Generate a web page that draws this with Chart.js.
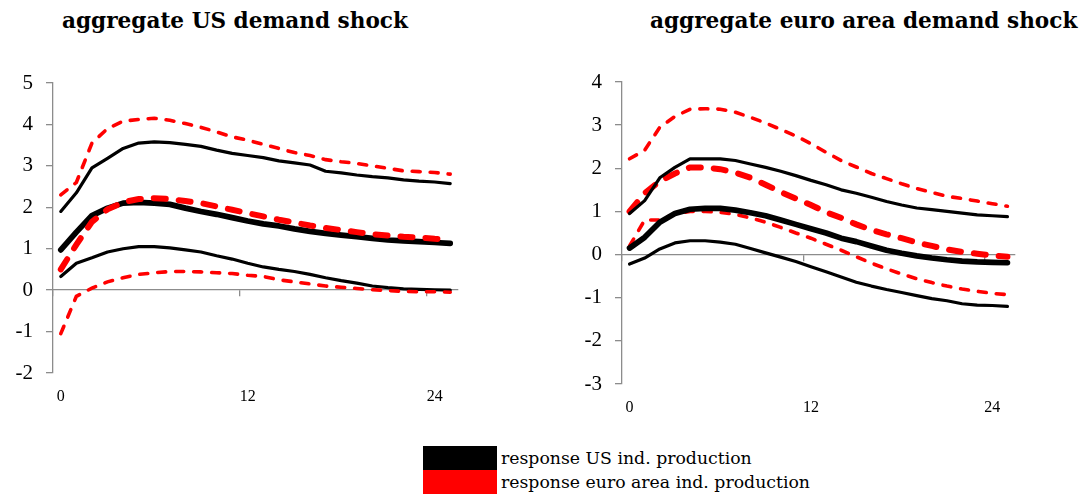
<!DOCTYPE html>
<html>
<head>
<meta charset="utf-8">
<script src="https://cdn.jsdelivr.net/npm/chart.js@4.4.1/dist/chart.umd.min.js"></script>
<style>
  body { margin: 0; background: #fff; width: 1085px; height: 495px; position: relative; overflow: hidden; }
  .title { position: absolute; top: 8px; font-family: 'DejaVu Serif', serif; font-weight: bold; font-size: 21.6px; white-space: nowrap; }
  canvas { position: absolute; top: 0; }
  .legend { position: absolute; left: 423px; top: 446px; font-family: 'DejaVu Serif', serif; font-size: 17.3px; }
  .legend div { height: 24px; line-height: 24px; white-space: nowrap; }
  .legend span { display: inline-block; width: 74px; height: 24px; vertical-align: top; margin-right: 4px; }
</style>
</head>
<body>
<div class="title" style="left:62px">aggregate US demand shock</div>
<div class="title" style="left:650px">aggregate euro area demand shock</div>
<canvas id="chartUS" width="540" height="420" style="left:0"></canvas>
<canvas id="chartEA" width="545" height="420" style="left:540px"></canvas>
<div class="legend">
  <div><span style="background:#000"></span>response US ind. production</div>
  <div><span style="background:#ff0000"></span>response euro area ind. production</div>
</div>
<script>
'use strict';

let horizons = [];
for (let i = 0; i <= 25; i++) horizons.push(String(i));

// US demand shock
let usUpper = [1.9, 2.35, 2.95, 3.18, 3.42, 3.55, 3.58, 3.56, 3.52, 3.47, 3.38, 3.3, 3.25, 3.2, 3.12, 3.07, 3.02, 2.87, 2.83, 2.78, 2.74, 2.71, 2.66, 2.63, 2.61, 2.57];
let usMedian = [0.97, 1.4, 1.8, 1.98, 2.1, 2.12, 2.1, 2.07, 1.98, 1.9, 1.83, 1.75, 1.67, 1.6, 1.55, 1.48, 1.42, 1.37, 1.33, 1.29, 1.25, 1.21, 1.19, 1.17, 1.15, 1.13];
let usLower = [0.33, 0.65, 0.78, 0.92, 1.0, 1.05, 1.05, 1.02, 0.97, 0.92, 0.83, 0.75, 0.65, 0.56, 0.5, 0.45, 0.38, 0.3, 0.23, 0.17, 0.1, 0.06, 0.03, 0.02, 0.01, 0.0];
let usEaUpper = [2.3, 2.6, 3.55, 3.9, 4.08, 4.12, 4.15, 4.1, 4.02, 3.93, 3.82, 3.7, 3.62, 3.52, 3.42, 3.32, 3.25, 3.15, 3.1, 3.06, 3.0, 2.94, 2.88, 2.86, 2.84, 2.8];
let usEaMedian = [0.5, 1.1, 1.65, 1.95, 2.12, 2.2, 2.22, 2.2, 2.15, 2.1, 2.02, 1.94, 1.86, 1.78, 1.7, 1.63, 1.56, 1.5, 1.45, 1.4, 1.35, 1.32, 1.29, 1.27, 1.24, 1.22];
let usEaLower = [-1.05, -0.15, 0.05, 0.2, 0.3, 0.38, 0.42, 0.45, 0.45, 0.44, 0.42, 0.4, 0.36, 0.33, 0.25, 0.2, 0.15, 0.1, 0.07, 0.04, 0.01, -0.01, -0.03, -0.04, -0.04, -0.05];

// euro area demand shock
let eaUsUpper = [0.95, 1.25, 1.78, 2.02, 2.22, 2.22, 2.22, 2.18, 2.1, 2.02, 1.93, 1.83, 1.72, 1.62, 1.5, 1.42, 1.33, 1.23, 1.15, 1.08, 1.04, 1.0, 0.96, 0.92, 0.9, 0.88];
let eaUsMedian = [0.15, 0.4, 0.75, 0.95, 1.05, 1.07, 1.07, 1.03, 0.97, 0.9, 0.8, 0.7, 0.6, 0.5, 0.38, 0.3, 0.2, 0.1, 0.03, -0.03, -0.08, -0.12, -0.15, -0.17, -0.18, -0.19];
let eaUsLower = [-0.22, -0.08, 0.13, 0.27, 0.32, 0.32, 0.29, 0.24, 0.14, 0.04, -0.06, -0.16, -0.28, -0.4, -0.52, -0.64, -0.73, -0.81, -0.88, -0.95, -1.02, -1.07, -1.14, -1.17, -1.18, -1.2];
let eaUpper = [2.22, 2.42, 2.95, 3.2, 3.37, 3.38, 3.37, 3.3, 3.18, 3.05, 2.9, 2.75, 2.57, 2.37, 2.18, 2.03, 1.88, 1.76, 1.64, 1.53, 1.44, 1.35, 1.3, 1.24, 1.18, 1.12];
let eaMedian = [1.0, 1.42, 1.7, 1.88, 2.02, 2.02, 1.98, 1.9, 1.78, 1.62, 1.45, 1.3, 1.15, 0.98, 0.85, 0.7, 0.57, 0.47, 0.38, 0.28, 0.2, 0.12, 0.06, 0.02, -0.02, -0.05];
let eaLower = [0.2, 0.8, 0.8, 0.95, 1.0, 1.0, 0.98, 0.93, 0.85, 0.75, 0.63, 0.5, 0.38, 0.24, 0.1, -0.05, -0.2, -0.33, -0.45, -0.56, -0.65, -0.73, -0.8, -0.85, -0.9, -0.93];

let shownTicks = [0, 12, 24];
let axisGray = '#8c8c8c';

// redOnTop: the US panel has the red lines over the black ones, the euro panel the other way
function makeSets(bUp, bMed, bLow, rUp, rMed, rLow, redOnTop) {
  let rOrder = redOnTop ? 0 : 1;
  let bOrder = redOnTop ? 1 : 0;
  let black = { borderColor: '#000', pointRadius: 0, tension: 0, fill: false, borderJoinStyle: 'round', borderCapStyle: 'round', order: bOrder };
  let red = { borderColor: '#ff0000', pointRadius: 0, tension: 0, fill: false, borderCapStyle: 'round', order: rOrder };
  return [
    Object.assign({ data: rUp, borderWidth: 3.6, borderDash: [8, 10] }, red),
    Object.assign({ data: rMed, borderWidth: 6, borderDash: [12, 13] }, red),
    Object.assign({ data: rLow, borderWidth: 3.6, borderDash: [8, 10] }, red),
    Object.assign({ data: bUp, borderWidth: 3.2 }, black),
    Object.assign({ data: bMed, borderWidth: 5.7 }, black),
    Object.assign({ data: bLow, borderWidth: 3.2 }, black)
  ];
}

function makeConfig(sets, yMin, yMax, pad, yWidth, xHeight, xPad) {
  return {
    type: 'line',
    data: { labels: horizons, datasets: sets },
    options: {
      responsive: false,
      animation: false,
      layout: { padding: pad },
      plugins: { legend: { display: false }, tooltip: { enabled: false } },
      scales: {
        x: {
          type: 'category',
          offset: true,
          grid: { display: false },
          border: { display: false },
          afterFit: function (s) { s.height = xHeight; },
          ticks: {
            autoSkip: false,
            maxRotation: 0,
            padding: xPad,
            color: '#000',
            font: { family: 'Liberation Serif', size: 16 },
            callback: function (v, i) { return shownTicks.includes(i) ? horizons[i] : null; }
          }
        },
        // axis line through zero, with tick marks between categories at 12 and 24
        zero: {
          type: 'category',
          axis: 'x',
          position: { y: 0 },
          offset: true,
          grid: {
            offset: true,
            drawOnChartArea: false,
            drawTicks: true,
            tickLength: 6,
            lineWidth: 1.3,
            tickColor: function (c) { return shownTicks.includes(c.index) ? axisGray : 'rgba(0,0,0,0)'; }
          },
          border: { display: true, color: axisGray, width: 1.3 },
          ticks: {
            autoSkip: false,
            maxRotation: 0,
            padding: 0,
            font: { size: 1 },
            callback: function () { return ' '; }
          }
        },
        y: {
          min: yMin,
          max: yMax,
          afterFit: function (s) { s.width = yWidth; },
          grid: { drawOnChartArea: false, drawTicks: true, tickLength: 7, color: axisGray, lineWidth: 1.3 },
          border: { display: true, color: axisGray, width: 1.3 },
          ticks: {
            stepSize: 1,
            padding: 13,
            color: '#000',
            font: { family: 'Liberation Serif', size: 21 }
          }
        }
      }
    }
  };
}

new Chart(document.getElementById('chartUS'),
  makeConfig(makeSets(usUpper, usMedian, usLower, usEaUpper, usEaMedian, usEaLower, true),
    -2, 5, { top: 83, right: 82, bottom: 2, left: 0 }, 53, 45, 6));

new Chart(document.getElementById('chartEA'),
  makeConfig(makeSets(eaUsUpper, eaUsMedian, eaUsLower, eaUpper, eaMedian, eaLower, false),
    -3, 4, { top: 82, right: 70, bottom: 0, left: 0 }, 82, 36, 6));
</script>
</body>
</html>
